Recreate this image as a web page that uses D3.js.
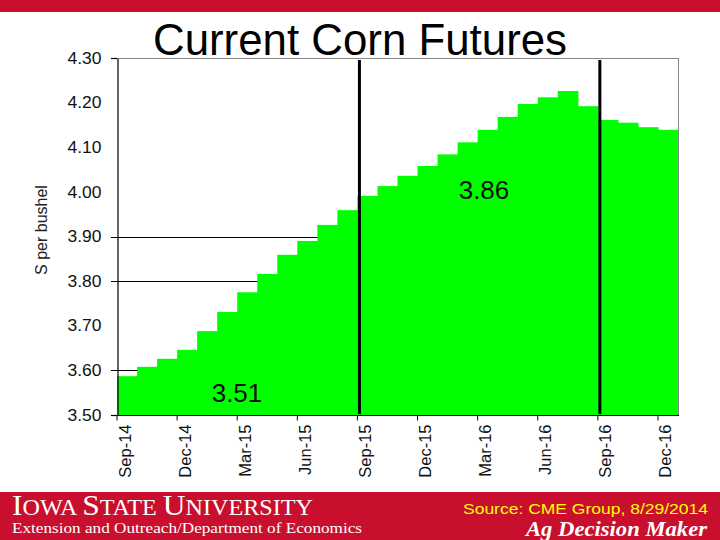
<!DOCTYPE html>
<html>
<head>
<meta charset="utf-8">
<script src="https://cdn.jsdelivr.net/npm/d3@7"></script>
<style>
  html, body { margin: 0; padding: 0; background: #fff; }
  svg { display: block; }
</style>
</head>
<body>
<svg id="chart" width="720" height="540"></svg>
<script>
// ---- data ----
const months = ["Sep-14","Oct-14","Nov-14","Dec-14","Jan-15","Feb-15","Mar-15","Apr-15","May-15","Jun-15",
  "Jul-15","Aug-15","Sep-15","Oct-15","Nov-15","Dec-15","Jan-16","Feb-16","Mar-16","Apr-16",
  "May-16","Jun-16","Jul-16","Aug-16","Sep-16","Oct-16","Nov-16","Dec-16"];
const prices = [3.587, 3.608, 3.626, 3.646, 3.688, 3.731, 3.775, 3.816, 3.859, 3.890,
  3.926, 3.959, 3.991, 4.013, 4.036, 4.058, 4.084, 4.111, 4.139, 4.168,
  4.197, 4.212, 4.226, 4.192, 4.161, 4.155, 4.145, 4.139];
const tickMonths = ["Sep-14","Dec-14","Mar-15","Jun-15","Sep-15","Dec-15","Mar-16","Jun-16","Sep-16","Dec-16"];
const yTicks = [3.50, 3.60, 3.70, 3.80, 3.90, 4.00, 4.10, 4.20, 4.30];
const gridValues = [3.60, 3.80, 3.90];
const markerMonths = ["Sep-15", "Sep-16"];
const annotationTexts = ["3.86", "3.51"];
const title = "Current Corn Futures";
const yLabel = "S per bushel";
const source = "Source: CME Group, 8/29/2014";

// ---- layout ----
const svg = d3.select("#chart");
const mLeft = 117, mRight = 678, mTop = 58, mBottom = 415;
const RED = "#c8102e";
const annotationPos = [[484, 199], [237, 402]];

const x = d3.scaleBand().domain(months).range([mLeft, mRight]).padding(0);
const y = d3.scaleLinear().domain([3.5, 4.3]).range([mBottom, mTop]);

// top red strip
svg.append("rect").attr("x", 0).attr("y", 0).attr("width", 720).attr("height", 12).attr("fill", RED);

// title
svg.append("text").attr("x", 360).attr("y", 55).attr("text-anchor", "middle")
  .attr("font-family", "Arial, 'Liberation Sans', sans-serif").attr("font-size", 44)
  .attr("textLength", 414).attr("lengthAdjust", "spacingAndGlyphs")
  .attr("fill", "#000").text(title);

// gridlines (behind bars), extending as outward ticks
svg.append("g").selectAll("line").data(gridValues).join("line")
  .attr("x1", mLeft - 6).attr("x2", mRight)
  .attr("y1", d => Math.round(y(d)) + 0.5).attr("y2", d => Math.round(y(d)) + 0.5)
  .attr("stroke", "#000").attr("stroke-width", 1.2);

// bars
svg.append("g").selectAll("rect").data(months).join("rect")
  .attr("x", d => x(d))
  .attr("width", x.bandwidth() + 0.6)
  .attr("y", (d, i) => y(prices[i]))
  .attr("height", (d, i) => mBottom - y(prices[i]))
  .attr("fill", "#00ff00");

// frame (top & right gray)
svg.append("line").attr("x1", mLeft).attr("x2", mRight + 0.5).attr("y1", mTop + 0.5).attr("y2", mTop + 0.5)
  .attr("stroke", "#888").attr("stroke-width", 1);
svg.append("line").attr("x1", mRight + 0.5).attr("x2", mRight + 0.5).attr("y1", mTop).attr("y2", mBottom)
  .attr("stroke", "#888").attr("stroke-width", 1);

// marker lines
svg.append("g").selectAll("line").data(markerMonths).join("line")
  .attr("x1", d => x(d) + 2).attr("x2", d => x(d) + 2)
  .attr("y1", mTop + 2).attr("y2", mBottom - 1)
  .attr("stroke", "#000").attr("stroke-width", 3);

// y axis
const yAxis = svg.append("g").attr("transform", `translate(${mLeft + 0.5},0)`)
  .call(d3.axisLeft(y).tickValues(yTicks).tickFormat(d3.format(".2f")).tickSize(0).tickPadding(16));
yAxis.select(".domain").attr("stroke", "#000").attr("stroke-width", 1.2);
yAxis.selectAll("text").attr("font-family", "Arial, 'Liberation Sans', sans-serif")
  .attr("font-size", 16).attr("fill", "#111")
  .attr("textLength", 34).attr("lengthAdjust", "spacingAndGlyphs");
// outward ticks at top and bottom
svg.append("g").selectAll("line").data([3.5, 4.3]).join("line")
  .attr("x1", mLeft - 6).attr("x2", mLeft)
  .attr("y1", d => Math.round(y(d)) + 0.5).attr("y2", d => Math.round(y(d)) + 0.5)
  .attr("stroke", "#000").attr("stroke-width", 1.2);

// x axis
const xAxis = svg.append("g").attr("transform", `translate(0,${mBottom + 0.5})`)
  .call(d3.axisBottom(x).tickValues(tickMonths).tickSize(5).tickSizeOuter(0));
xAxis.select(".domain").attr("stroke", "#000").attr("stroke-width", 1.2).attr("d", `M${mLeft},0H${mRight + 1}`);
xAxis.selectAll(".tick").attr("transform", d => `translate(${x(d)},0)`);
xAxis.selectAll(".tick line").attr("stroke", "#000");
xAxis.selectAll(".tick text")
  .attr("font-family", "Arial, 'Liberation Sans', sans-serif").attr("font-size", 16.5).attr("fill", "#111")
  .attr("text-anchor", "end").attr("dy", null)
  .attr("transform", "translate(13.5,9) rotate(-90)")
  .attr("x", 0).attr("y", 0);

// y label
svg.append("text").attr("transform", "translate(47,230) rotate(-90)").attr("text-anchor", "middle")
  .attr("font-family", "Arial, 'Liberation Sans', sans-serif").attr("font-size", 16).attr("fill", "#222")
  .text(yLabel);

// annotations
svg.append("g").selectAll("text").data(annotationTexts).join("text")
  .attr("x", (d, i) => annotationPos[i][0])
  .attr("y", (d, i) => annotationPos[i][1])
  .attr("text-anchor", "middle")
  .attr("font-family", "Arial, 'Liberation Sans', sans-serif").attr("font-size", 26).attr("fill", "#111")
  .text(d => d);

// bottom banner
svg.append("rect").attr("x", 0).attr("y", 492).attr("width", 720).attr("height", 48).attr("fill", RED);
const isu = svg.append("text").attr("x", 12).attr("y", 515)
  .attr("font-family", "'Liberation Serif', 'DejaVu Serif', serif").attr("fill", "#fff")
  .attr("textLength", 301).attr("lengthAdjust", "spacingAndGlyphs");
[["I", 30], ["OWA ", 23], ["S", 30], ["TATE ", 23], ["U", 30], ["NIVERSITY", 23]].forEach(([t, s]) => {
  isu.append("tspan").attr("font-size", s).text(t);
});
svg.append("text").attr("x", 12).attr("y", 533)
  .attr("font-family", "'Liberation Serif', 'DejaVu Serif', serif").attr("font-size", 15).attr("fill", "#fff")
  .attr("textLength", 350).attr("lengthAdjust", "spacingAndGlyphs")
  .text("Extension and Outreach/Department of Economics");
svg.append("text").attr("x", 708).attr("y", 514).attr("text-anchor", "end")
  .attr("font-family", "Arial, 'Liberation Sans', sans-serif").attr("font-size", 15).attr("fill", "#ffff00")
  .attr("textLength", 245).attr("lengthAdjust", "spacingAndGlyphs")
  .text(source);
svg.append("text").attr("x", 707).attr("y", 536).attr("text-anchor", "end")
  .attr("font-family", "'Liberation Serif', 'DejaVu Serif', serif").attr("font-size", 21)
  .attr("font-weight", "bold").attr("font-style", "italic").attr("fill", "#fff")
  .attr("textLength", 181).attr("lengthAdjust", "spacingAndGlyphs")
  .text("Ag Decision Maker");
</script>
</body>
</html>
